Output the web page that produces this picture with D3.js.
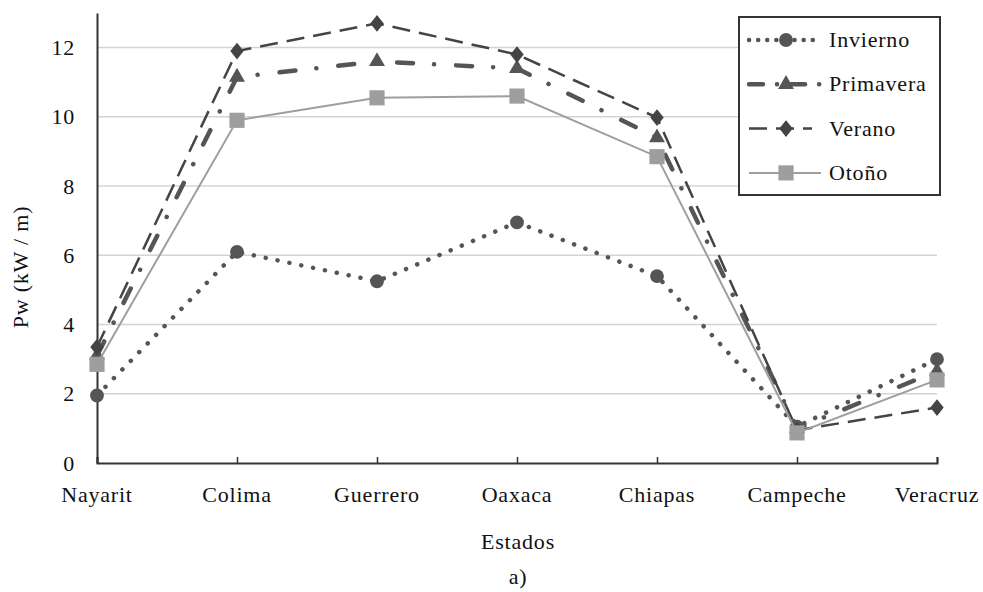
<!DOCTYPE html>
<html>
<head>
<meta charset="utf-8">
<script src="https://cdn.jsdelivr.net/npm/d3@7"></script>
<style>
  body { margin: 0; background: #fff; }
  text { font-family: "Liberation Serif", "DejaVu Serif", serif; fill: #111; font-size: 22px; letter-spacing: 0.8px; }
</style>
</head>
<body>
<div id="chart"></div>
<script>
// datos
var estados = ["Nayarit", "Colima", "Guerrero", "Oaxaca", "Chiapas", "Campeche", "Veracruz"];
var invierno  = [1.95, 6.1, 5.25, 6.95, 5.4, 1.05, 3.0];
var primavera = [3.1, 11.15, 11.6, 11.4, 9.4, 1.0, 2.65];
var verano    = [3.35, 11.9, 12.7, 11.8, 9.98, 0.95, 1.6];
var otono     = [2.85, 9.9, 10.55, 10.6, 8.85, 0.87, 2.4];
var yTicks = [0, 2, 4, 6, 8, 10, 12];

var series = [
  {name: "Invierno",  values: invierno,  color: "#555", width: 4.5, dash: "0.1,12",       cap: "round", marker: "circle"},
  {name: "Primavera", values: primavera, color: "#555", width: 4.5, dash: "16,21,0.1,22", cap: "round", marker: "triangle"},
  {name: "Verano",    values: verano,    color: "#444", width: 2.5, dash: "18,9",         cap: "butt",  marker: "diamond"},
  {name: "Otoño",     values: otono,     color: "#9e9e9e", width: 2, dash: null,          cap: "butt",  marker: "square"}
];

var W = 983, H = 592;
var x0 = 97, x1 = 937, yBottom = 463;

var svg = d3.select("#chart").append("svg")
    .attr("width", W)
    .attr("height", H);

var x = d3.scalePoint().domain(estados).range([x0, x1]).padding(0);
var y = d3.scaleLinear().domain([0, 13]).range([yBottom, 13]);

// lineas de la rejilla
svg.append("g")
    .selectAll("line")
    .data(yTicks.filter(function(d) { return d > 0; }))
    .enter().append("line")
    .attr("x1", x0).attr("x2", x1)
    .attr("y1", function(d) { return y(d); })
    .attr("y2", function(d) { return y(d); })
    .style("stroke", "#d4d4d4")
    .style("stroke-width", 1.5);

// eje y
var yAxis = svg.append("g")
    .attr("transform", "translate(" + x0 + ",0)")
    .call(d3.axisLeft(y).tickValues(yTicks).tickSize(0).tickPadding(22));
yAxis.select(".domain").style("stroke", "#333").style("stroke-width", 2);
yAxis.selectAll("text")
    .style("font-size", "22px")
    .style("font-family", "Liberation Serif, serif")
    .style("fill", "#111");

// eje x
var xAxis = svg.append("g")
    .attr("transform", "translate(0," + yBottom + ")")
    .call(d3.axisTop(x).tickSize(6).tickFormat(""));
xAxis.select(".domain").style("stroke", "#333").style("stroke-width", 2);
xAxis.selectAll(".tick line").style("stroke", "#333").style("stroke-width", 1.5);

svg.append("g")
    .selectAll("text")
    .data(estados)
    .enter().append("text")
    .attr("x", function(d) { return x(d); })
    .attr("y", 502)
    .style("text-anchor", "middle")
    .text(function(d) { return d; });

svg.append("text")
    .attr("x", (x0 + x1) / 2 + 1)
    .attr("y", 549)
    .style("text-anchor", "middle")
    .text("Estados");

svg.append("text")
    .attr("x", (x0 + x1) / 2 + 1)
    .attr("y", 584)
    .style("text-anchor", "middle")
    .text("a)");

svg.append("text")
    .attr("transform", "translate(28,267) rotate(-90)")
    .style("text-anchor", "middle")
    .text("Pw (kW / m)");

var line = d3.line()
    .x(function(d, i) { return x(estados[i]); })
    .y(function(d) { return y(d); });

var symbolType = {
  circle: d3.symbolCircle,
  triangle: d3.symbolTriangle,
  diamond: d3.symbolDiamond,
  square: d3.symbolSquare
};
var symbolSize = {circle: 150, triangle: 110, diamond: 100, square: 230};

function drawMarker(g, s, px, py) {
  return g.append("path")
      .attr("d", d3.symbol().type(symbolType[s.marker]).size(symbolSize[s.marker])())
      .attr("transform", "translate(" + px + "," + py + ")" + (s.marker === "diamond" ? " scale(1.25,0.9)" : ""))
      .style("fill", s.color);
}

series.forEach(function(s) {
  var g = svg.append("g");
  g.append("path")
      .datum(s.values)
      .attr("d", line)
      .style("fill", "none")
      .style("stroke", s.color)
      .style("stroke-width", s.width)
      .style("stroke-linecap", s.cap)
      .style("stroke-dasharray", s.dash);
  s.values.forEach(function(v, i) {
    drawMarker(g, s, x(estados[i]), y(v));
  });
});

// leyenda
var legend = svg.append("g").attr("transform", "translate(739,17)");
legend.append("rect")
    .attr("width", 201).attr("height", 178)
    .style("fill", "#fff")
    .style("stroke", "#333")
    .style("stroke-width", 2);

var legendDash = ["0.1,9", "14,14,0.1,14", "18,9", null];

series.forEach(function(s, i) {
  var ly = 23 + i * 44.3;
  var row = legend.append("g");
  row.append("line")
      .attr("x1", 10).attr("x2", i === 2 ? 73 : 82)
      .attr("y1", ly).attr("y2", ly)
      .style("stroke", s.color)
      .style("stroke-width", s.width)
      .style("stroke-linecap", s.cap)
      .style("stroke-dasharray", legendDash[i]);
  drawMarker(row, s, 47, ly);
  row.append("text")
      .attr("x", 90)
      .attr("y", ly + 7)
      .text(s.name);
});
</script>
</body>
</html>
